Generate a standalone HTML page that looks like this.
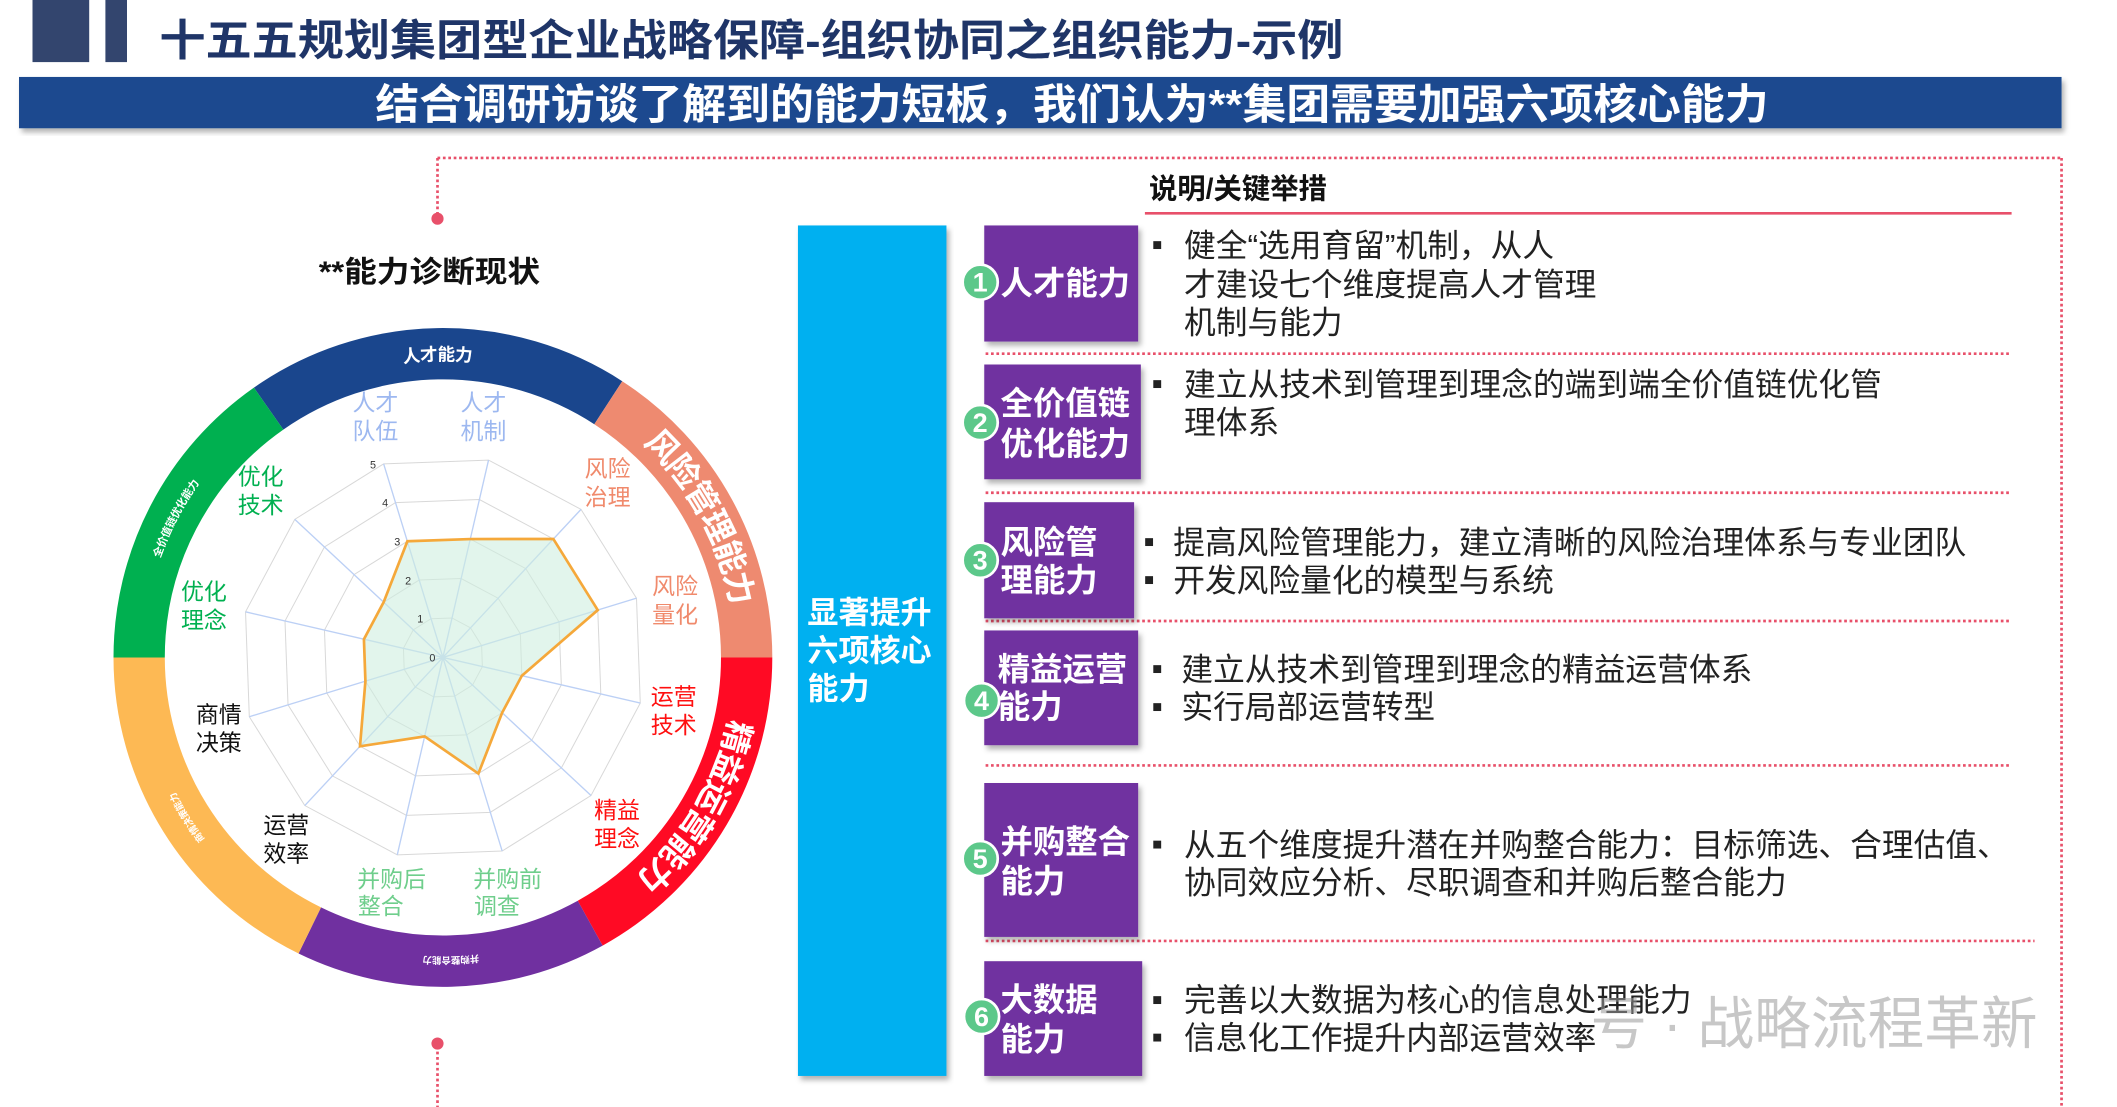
<!DOCTYPE html>
<html><head><meta charset="utf-8">
<style>
html,body{margin:0;padding:0;background:#fff;}
svg{display:block;}
text{font-family:"Liberation Sans","Noto Sans CJK SC",sans-serif;}
</style></head>
<body>
<svg width="2117" height="1107" viewBox="0 0 1568 820" xmlns="http://www.w3.org/2000/svg">
<defs>
<filter id="sh" x="-5%" y="-5%" width="110%" height="120%"><feDropShadow dx="2" dy="3" stdDeviation="2" flood-color="#000" flood-opacity="0.3"/></filter>
<polygon id="pg" points="-43.9,-143.4 33.8,-146.2 102.3,-109.7 143.4,-43.9 146.2,33.8 109.7,102.3 43.9,143.4 -33.8,146.2 -102.3,109.7 -143.4,43.9 -146.2,-33.8 -109.7,-102.3" fill="none" stroke="#d8d8d8" stroke-width="1" vector-effect="non-scaling-stroke"/>
<path id="ap0" d="M198.9 302.7 A225 225 0 0 1 450.5 298.3"/>
<path id="ap1" d="M450.5 298.3 A225 225 0 0 1 553 487"/>
<path id="ap2" d="M553 487 A225 225 0 0 1 437.1 683.8"/>
<path id="ap3" d="M437.1 683.8 A225 225 0 0 1 229.4 689.2"/>
<path id="ap4" d="M229.4 689.2 A225 225 0 0 1 103 487"/>
<path id="ap5" d="M103 487 A225 225 0 0 1 198.9 302.7"/>
</defs>
<rect x="0" y="0" width="1568" height="820" fill="#fff"/>
<!-- header -->
<rect x="24" y="0" width="42" height="46" fill="#33456e"/>
<rect x="78" y="0" width="16" height="46" fill="#33456e"/>
<text x="118" y="41" font-size="32" font-weight="bold" fill="#1f3568" textLength="877" lengthAdjust="spacingAndGlyphs">十五五规划集团型企业战略保障-组织协同之组织能力-示例</text>
<rect x="14" y="57" width="1513" height="38" fill="#1a4a8f" filter="url(#sh)"/>
<text x="278" y="88" font-size="31" font-weight="bold" fill="#fff" textLength="1032" lengthAdjust="spacingAndGlyphs">结合调研访谈了解到的能力短板，我们认为**集团需要加强六项核心能力</text>
<!-- red dotted frame -->
<g stroke="#e8506a" stroke-width="2" stroke-dasharray="2,2" fill="none">
<line x1="324" y1="117" x2="1527" y2="117"/>
<line x1="1527" y1="117" x2="1527" y2="820"/>
<line x1="324" y1="117" x2="324" y2="160"/>
<line x1="324" y1="775" x2="324" y2="820"/>
</g>
<circle cx="324" cy="162" r="4.5" fill="#e8506a"/>
<circle cx="324" cy="773" r="4.5" fill="#e8506a"/>
<text x="236" y="209" font-size="22" font-weight="bold" fill="#111" textLength="164" lengthAdjust="spacingAndGlyphs">**能力诊断现状</text>
<!-- ring -->
<g fill="none" stroke-width="38">
<use href="#ap0" stroke="#1a468d"/>
<use href="#ap1" stroke="#ee8a70"/>
<use href="#ap2" stroke="#ff0a24"/>
<use href="#ap3" stroke="#7030a0"/>
<use href="#ap4" stroke="#fdb954"/>
<use href="#ap5" stroke="#00b050"/>
</g>
<g font-weight="bold" fill="#fff">
<text font-size="13" dy="5"><textPath href="#ap0" startOffset="50%" text-anchor="middle">人才能力</textPath></text>
<text font-size="24" dy="8"><textPath href="#ap1" startOffset="50%" text-anchor="middle">风险管理能力</textPath></text>
<text font-size="24" dy="8"><textPath href="#ap2" startOffset="50%" text-anchor="middle">精益运营能力</textPath></text>
<text font-size="7" dy="3"><textPath href="#ap3" startOffset="50%" text-anchor="middle">并购整合能力</textPath></text>
<text font-size="7" dy="3"><textPath href="#ap4" startOffset="50%" text-anchor="middle">商情决策能力</textPath></text>
<text font-size="8" dy="3"><textPath href="#ap5" startOffset="50%" text-anchor="middle">全价值链优化能力</textPath></text>
</g>
<!-- radar -->
<g transform="translate(328 487)">
<use href="#pg" transform="scale(0.2)"/>
<use href="#pg" transform="scale(0.4)"/>
<use href="#pg" transform="scale(0.6)"/>
<use href="#pg" transform="scale(0.8)"/>
<use href="#pg"/>
<path d="M0 0L-43.9 -143.4M0 0L33.8 -146.2M0 0L102.3 -109.7M0 0L143.4 -43.9M0 0L146.2 33.8M0 0L109.7 102.3M0 0L43.9 143.4M0 0L-33.8 146.2M0 0L-102.3 109.7M0 0L-143.4 43.9M0 0L-146.2 -33.8M0 0L-109.7 -102.3" stroke="#bcd0f5" stroke-width="1" fill="none"/>
<polygon points="-26.3,-86.1 20.3,-87.7 81.8,-87.8 114.7,-35.1 58.5,13.5 43.9,40.9 26.3,86.0 -13.5,58.5 -61.4,65.8 -57.4,17.6 -58.5,-13.5 -43.9,-40.9" fill="#cfeee0" fill-opacity="0.6" stroke="#f5a83a" stroke-width="2"/>
<g font-size="8" fill="#333">
<text x="-10" y="3">0</text><text x="-19" y="-26">1</text><text x="-28" y="-54">2</text>
<text x="-36" y="-83">3</text><text x="-45" y="-112">4</text><text x="-54" y="-140">5</text>
</g>
</g>
<g font-size="17" text-anchor="middle">
<text fill="#9db8f0"><tspan x="278" y="304">人才</tspan><tspan x="278" y="325">队伍</tspan></text>
<text fill="#9db8f0"><tspan x="358" y="304">人才</tspan><tspan x="358" y="325">机制</tspan></text>
<text fill="#f08a6c"><tspan x="450" y="353">风险</tspan><tspan x="450" y="374">治理</tspan></text>
<text fill="#f08a6c"><tspan x="500" y="440">风险</tspan><tspan x="500" y="461">量化</tspan></text>
<text fill="#ff1010"><tspan x="499" y="522">运营</tspan><tspan x="499" y="543">技术</tspan></text>
<text fill="#ff1010"><tspan x="457" y="606">精益</tspan><tspan x="457" y="627">理念</tspan></text>
<text fill="#6fce8c"><tspan x="376" y="657">并购前</tspan><tspan x="368" y="677">调查</tspan></text>
<text fill="#6fce8c"><tspan x="290" y="657">并购后</tspan><tspan x="282" y="677">整合</tspan></text>
<text fill="#111"><tspan x="212" y="617">运营</tspan><tspan x="212" y="638">效率</tspan></text>
<text fill="#111"><tspan x="162" y="535">商情</tspan><tspan x="162" y="556">决策</tspan></text>
<text fill="#00b050"><tspan x="151" y="444">优化</tspan><tspan x="151" y="465">理念</tspan></text>
<text fill="#00b050"><tspan x="193" y="359">优化</tspan><tspan x="193" y="380">技术</tspan></text>
</g>
<!-- right side -->
<rect x="591" y="167" width="110" height="630" fill="#00b0f0" filter="url(#sh)"/>
<text font-size="23" font-weight="bold" fill="#fff"><tspan x="598" y="462">显著提升</tspan><tspan x="598" y="490">六项核心</tspan><tspan x="598" y="518">能力</tspan></text>
<text x="851" y="147" font-size="21" font-weight="bold" fill="#111">说明/关键举措</text>
<line x1="848" y1="158" x2="1490" y2="158" stroke="#e8506a" stroke-width="2"/>
<g stroke="#e8506a" stroke-width="2" stroke-dasharray="2,2">
<line x1="730" y1="262" x2="1490" y2="262"/>
<line x1="730" y1="365" x2="1490" y2="365"/>
<line x1="730" y1="460" x2="1490" y2="460"/>
<line x1="730" y1="567" x2="1490" y2="567"/>
<line x1="730" y1="697" x2="1507" y2="697"/>
</g>
<g fill="#7030a0" filter="url(#sh)">
<rect x="729" y="167" width="114" height="86"/>
<rect x="729" y="270" width="116" height="85"/>
<rect x="729" y="372" width="111" height="86"/>
<rect x="729" y="467" width="114" height="85"/>
<rect x="729" y="580" width="114" height="114"/>
<rect x="729" y="712" width="117" height="85"/>
</g>
<g font-size="24" font-weight="bold" fill="#fff">
<text x="741" y="218">人才能力</text>
<text x="741" y="307">全价值链</text><text x="741" y="337">优化能力</text>
<text x="741" y="410">风险管</text><text x="741" y="438">理能力</text>
<text x="739" y="504">精益运营</text><text x="739" y="532">能力</text>
<text x="741" y="632">并购整合</text><text x="741" y="661">能力</text>
<text x="741" y="749">大数据</text><text x="741" y="778">能力</text>
</g>
<g fill="#5cc88a" stroke="#fff" stroke-width="2">
<circle cx="726" cy="209" r="13"/><circle cx="726" cy="313" r="13"/><circle cx="726" cy="415" r="13"/>
<circle cx="727" cy="519" r="13"/><circle cx="726" cy="636" r="13"/><circle cx="727" cy="753" r="13"/>
</g>
<g font-size="20" font-weight="bold" fill="#fff" text-anchor="middle">
<text x="726" y="216">1</text><text x="726" y="320">2</text><text x="726" y="422">3</text>
<text x="727" y="526">4</text><text x="726" y="643">5</text><text x="727" y="760">6</text>
</g>
<g font-size="23.5" fill="#222">
<text x="853" y="189">▪</text><text x="877" y="190">健全“选用育留”机制，从人</text>
<text x="877" y="219">才建设七个维度提高人才管理</text><text x="877" y="247">机制与能力</text>
<text x="853" y="292">▪</text><text x="877" y="293">建立从技术到管理到理念的端到端全价值链优化管</text>
<text x="877" y="321">理体系</text>
<text x="847" y="409">▪</text><text x="869" y="410">提高风险管理能力，建立清晰的风险治理体系与专业团队</text>
<text x="847" y="437">▪</text><text x="869" y="438">开发风险量化的模型与系统</text>
<text x="853" y="503">▪</text><text x="875" y="504">建立从技术到管理到理念的精益运营体系</text>
<text x="853" y="531">▪</text><text x="875" y="532">实行局部运营转型</text>
<text x="853" y="633">▪</text><text x="877" y="634">从五个维度提升潜在并购整合能力：目标筛选、合理估值、</text>
<text x="877" y="662">协同效应分析、尽职调查和并购后整合能力</text>
<text x="853" y="748">▪</text><text x="877" y="749">完善以大数据为核心的信息处理能力</text>
<text x="853" y="776">▪</text><text x="877" y="777">信息化工作提升内部运营效率</text>
</g>
<text x="1178" y="773" font-size="42" fill="#999" fill-opacity="0.55">号 · 战略流程革新</text>
</svg>
</body></html>
